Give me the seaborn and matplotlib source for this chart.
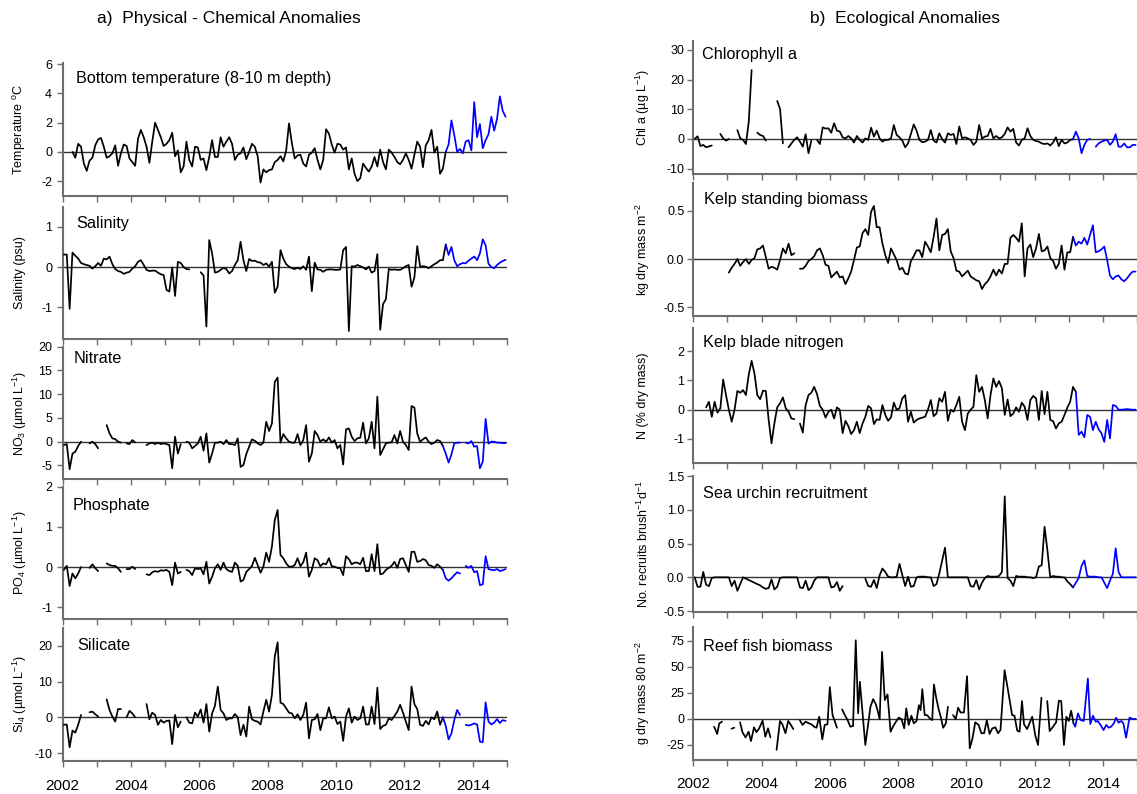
import matplotlib
matplotlib.use("Agg")
import matplotlib.pyplot as plt
import seaborn as sns
import pandas as pd
from matplotlib.ticker import FormatStrFormatter

# ---------------- data (monthly anomalies, month 0 = Jan 2002) ----------------
N = None
temp = [N, N, N, 0, -0.4, 0.55, 0.35, -0.8, -1.3, -0.6,
        -0.4, 0.45, 0.85, 0.95, 0.35, -0.4, -0.3, -0.1, 0.45, -0.95,
        -0.1, 0.5, 0.4, -0.45, -0.7, -0.95, 0.9, 1.5, 1.0, 0.35,
        -0.75, 0.7, 2.0, 1.5, 1.0, 0.4, 0.55, 0.8, 1.3, -0.3,
        0.1, -1.4, -1.0, 0.7, -0.55, -1.0, 0.35, 0.3, -0.55, -0.45,
        -1.25, -0.35, 0.8, -0.35, -0.35, 1.0, 0.35, 0.7, 1.0, 0.55,
        -0.55, -0.2, -0.1, 0.3, -0.5, 0, 0.55, 0.35, -0.3, -2.1,
        -1.2, -1.4, -1.25, -1.2, -0.7, -0.55, -0.3, -0.65, 0.1, 1.95,
        0.6, -0.45, -0.25, -0.2, -0.8, -1.0, -0.2, -0.05, 0.25, -0.55,
        -1.2, -0.55, 1.55, 1.25, 0.5, -0.05, 0.55, 0.5, 0.15, 0.3,
        -1.2, -0.45, -1.5, -2.0, -1.8, -0.8, -1.1, -1.35, -1.0, -0.35,
        -1.0, 0.15, -0.7, -1.2, 0.15, -0.05, -0.35, -0.7, -0.85, -0.55,
        -0.1, -0.55, -1.15, -0.2, 0.7, 0.35, -1.05, 0.45, 0.8, 1.5,
        -0.05, 0.35, -1.5, -1.15, 0.0, 0.5, 2.15, 1.15, 0.0, 0.2,
        -0.1, 0.7, 0.8, 0.1, 3.4, 1.0, 1.9, 0.25, 0.8, 1.2,
        2.4, 1.45, 2.25, 3.8, 2.8, 2.4]
temp_split = 134

salinity = [0.31, 0.31, -1.04, 0.36, 0.28, 0.21, 0.1, 0.07, 0.05, 0.03,
            -0.04, 0.02, 0.1, 0.03, 0.21, 0.19, 0.26, 0.07, -0.05, -0.1,
            -0.12, -0.17, -0.14, -0.12, -0.04, 0.02, 0.13, 0.17, 0.05, -0.07,
            -0.1, -0.09, -0.09, -0.14, -0.18, -0.2, -0.57, -0.61, -0.01, -0.72,
            0.13, 0.1, 0, -0.05, -0.06, N, N, N, -0.13, -0.21,
            -1.48, 0.67, 0.34, -0.14, -0.12, -0.07, -0.02, -0.05, -0.16, -0.1,
            0.05, 0.17, 0.63, 0.17, -0.1, 0.2, 0.15, 0.16, 0.12, 0.11,
            0.05, 0.09, 0.01, 0.13, -0.64, -0.49, 0.42, 0.21, 0.07, 0.01,
            -0.03, -0.05, -0.02, -0.05, 0.02, -0.07, 0.26, -0.6, 0.11, -0.06,
            -0.07, -0.12, -0.07, -0.06, -0.06, -0.07, -0.07, -0.06, 0.42, 0.5,
            -1.59, 0.02, 0.01, 0.05, 0.02, -0.01, -0.06, 0.01, -0.14, -0.1,
            0.32, -1.56, -0.92, -0.8, -0.05, -0.07, -0.06, -0.07, -0.07, -0.03,
            0.02, 0.05, -0.49, -0.26, 0.52, 0.01, 0.02, 0.01, -0.03, 0.02,
            0.07, 0.11, 0.17, 0.17, 0.56, 0.3, 0.5, 0.17, 0.02, 0.07,
            0.1, 0.09, 0.16, 0.21, 0.26, 0.17, 0.34, 0.69, 0.54, 0.08,
            0, -0.03, 0.05, 0.11, 0.15, 0.18]
salinity_split = 134

nitrate = [-0.7, -0.5, -5.8, -2.5, -2.1, -0.9, 0, N, N, -0.35,
           0, -0.5, -1.4, N, N, 3.5, 1.75, 0.7, 0.56, 0,
           -0.2, N, -0.35, -0.5, 0.35, -0.14, N, N, N, -0.7,
           -0.35, -0.2, -0.5, -0.2, -0.5, -0.35, -0.5, -0.7, -5.6, 1.05,
           -2.5, -0.5, N, 0, -0.2, -1.4, -0.9, -0.35, 1.05, -1.9,
           1.75, -4.4, -2.5, -0.2, -0.2, 0, -0.5, 0.35, -0.5, -0.5,
           -0.7, 0.7, -5.3, -4.9, -2.6, -1.05, 0.5, 0.2, -0.35, -0.7,
           -0.2, 4.2, 2.25, 3.85, 12.6, 13.5, -0.2, 1.6, 0.7, 0,
           -0.2, -0.2, 1.6, -0.7, 0.35, 3.5, -4.2, -2.5, 2.25, 1.4,
           0, 0.5, 0, 0.9, -0.2, 0.35, -1.4, -0.7, -4.8, 2.6,
           2.8, 1.05, 0.14, 0.7, 0.84, 4.0, -0.35, 0.7, 4.2, -1.4,
           9.5, -2.8, -1.6, -0.35, -0.2, -0.14, 1.4, -0.35, 2.25, 0,
           -0.7, -1.75, 7.5, 7.2, 1.75, 0, 0.5, 0.9, 0, -0.5,
           -0.2, 0.35, 0.14, -0.9, -2.5, -4.4, -2.7, -0.35, -0.2, -0.2,
           N, -0.2, -0.35, 0.14, -1.05, -0.9, -5.6, -4.2, 4.8, -0.4,
           0, 0, -0.2, -0.2, -0.3, -0.3]
nitrate_split = 133

phosphate = [-0.07, 0.03, -0.47, -0.16, -0.28, -0.16, 0, N, N, -0.02,
             0.07, -0.03, -0.1, N, N, 0.09, 0.05, 0.03, 0.03, -0.03,
             -0.12, N, -0.05, -0.05, 0.01, -0.05, N, N, N, -0.18,
             -0.2, -0.13, -0.1, -0.12, -0.08, -0.09, -0.07, -0.12, -0.45, 0.11,
             -0.16, -0.12, N, -0.07, -0.1, -0.2, -0.03, -0.05, -0.03, -0.18,
             0.13, -0.41, -0.24, -0.03, 0.07, -0.07, 0.11, -0.05, -0.1, -0.12,
             0.11, 0.03, -0.36, -0.32, -0.12, -0.05, 0.03, 0.23, 0.05, -0.14,
             0.01, 0.36, 0.13, 0.51, 1.17, 1.42, 0.3, 0.22, 0.09, 0.01,
             0.01, 0.05, 0.22, 0.02, 0.12, 0.36, -0.24, -0.07, 0.22, 0.17,
             0.02, 0.09, 0.07, 0.22, 0.02, 0.01, -0.02, -0.03, -0.2, 0.27,
             0.2, 0.07, 0.11, 0.11, 0.07, 0.23, -0.1, -0.1, 0.32, -0.1,
             0.57, -0.18, -0.16, -0.07, -0.02, 0.03, 0.13, -0.02, 0.2, 0.22,
             0.05, -0.12, 0.38, 0.38, 0.13, 0.15, 0.2, 0.17, 0.05, 0.03,
             -0.02, 0.07, 0.01, -0.07, -0.28, -0.34, -0.28, -0.2, -0.13, -0.16,
             N, 0.03, -0.02, 0.03, -0.13, -0.1, -0.45, -0.43, 0.27, -0.05,
             -0.07, -0.08, -0.05, -0.1, -0.08, -0.05]
phosphate_split = 133

silicate = [-2.1, -2.0, -8.4, -3.7, -4.3, -2.1, 0.65, N, N, 1.4,
            1.6, 0.85, 0.2, N, N, 5.0, 2.05, 0.2, -1.2, 2.3,
            2.3, N, 0, 1.8, 1.1, 0, N, N, N, 3.7,
            -0.55, 1.3, 0.65, -2.1, -0.75, -1.5, -1.0, -0.9, -7.5, 0.65,
            -2.8, -1.2, N, 0, -1.5, -1.7, 1.3, 0.2, 2.2, -1.5,
            3.7, -4.0, 1.1, 3.2, 8.6, 2.05, 1.1, -0.75, -0.3, -0.3,
            0.93, 0, -5.0, -2.1, -5.4, 3.0, -0.55, -1.0, -1.2, -2.0,
            1.6, 4.9, 1.6, 6.3, 17, 21, 4.1, 3.7, 2.5, 1.3,
            1.1, -0.3, 0.85, -0.75, 0.65, 4.1, -5.9, -0.75, -0.55, 0.93,
            -3.6, -0.3, -0.3, 2.8, -0.3, 0.2, -1.9, -1.2, -6.6, 0.2,
            2.5, -1.5, 0.2, -0.75, -0.3, 3.0, -2.0, -2.0, 3.0, -1.9,
            8.3, -3.3, -2.4, -2.1, -0.3, -0.75, 0.37, 1.6, 3.5, 1.3,
            -1.2, -3.6, 8.6, 3.7, 2.3, -2.1, -2.4, -1.0, -2.0, 0,
            -0.55, 1.6, -2.1, 0, -2.4, -6.2, -4.5, -0.75, 2.05, 0.65,
            N, -2.1, -2.3, -2.1, -1.7, -2.0, -6.8, -7.0, 4.2, -1.2,
            -2.0, -1.5, -0.5, -1.6, -0.8, -1.0]
silicate_split = 133

chl = [0, 0.9, -2.4, -2.0, -2.8, -2.5, -2.2, N, N, 1.7,
       0.2, -0.56, 0, N, N, 3.0, 0.2, -0.3, -1.7, 5.8,
       23.2, N, 2.1, 1.35, 1.0, -0.56, N, N, N, 12.8,
       10.1, -1.5, N, -2.8, -1.5, -0.3, 0.56, -0.9, -2.6, 1.6,
       -4.8, -0.56, N, -0.3, -1.7, 3.9, 3.5, 3.6, 2.1, 5.3,
       2.8, 2.5, 0.56, 0.2, 1.0, 0.2, -1.2, 1.0, -0.3, -1.2,
       0.2, -0.3, 3.8, 0.8, 2.8, 0.2, -0.9, -0.3, -0.3, 0.2,
       4.7, 1.35, 0.56, -0.56, -2.8, -1.5, 1.7, 4.9, 2.8, -0.3,
       -1.1, -0.9, -0.3, 3.0, -0.56, -1.2, 1.9, -0.1, -1.2, 1.9,
       1.35, 1.7, -1.7, 4.2, 0.2, 0.56, 0.2, -0.3, -2.0, -0.9,
       4.7, 0.2, 0.8, 1.0, 3.4, 0.2, 1.0, 0.2, 0.56, 1.7,
       3.9, 2.5, 3.4, -1.2, -2.2, -0.3, 0.2, 3.6, 1.0, -0.3,
       -0.7, -0.9, -1.5, -1.7, -1.5, -2.2, -1.2, 0.56, -2.4, -0.3,
       -1.5, -1.2, -0.3, -0.1, 2.5, 0.2, -4.8, -2.0, -0.3, 0,
       N, -2.6, -1.5, -0.9, -0.56, -0.3, -2.0, -0.9, 1.6, -2.6,
       -2.6, -1.5, -2.8, -2.8, -2.0, -2.0]
chl_split = 133

kelp = [N, N, N, N, N, N, N, N, N, N,
        N, N, -0.14, -0.09, -0.05, 0, -0.07, -0.03, 0, -0.05,
        -0.01, 0.01, 0.1, 0.11, 0.14, 0.02, -0.1, -0.08, -0.09, -0.11,
        -0.01, 0.11, 0.06, 0.16, 0.04, 0.06, N, -0.1, -0.1, -0.07,
        -0.02, 0, 0.03, 0.09, 0.11, 0.04, -0.06, -0.07, -0.19, -0.16,
        -0.13, -0.19, -0.18, -0.26, -0.2, -0.13, -0.01, 0.12, 0.13, 0.27,
        0.31, 0.25, 0.49, 0.55, 0.33, 0.33, 0.16, 0.04, -0.04, 0.11,
        0.05, -0.01, -0.11, -0.09, -0.15, -0.16, -0.02, 0.03, 0.09, 0.09,
        0.02, 0.18, 0.13, 0.07, 0.23, 0.42, 0.09, 0.25, 0.26, 0.31,
        0.08, 0.01, -0.12, -0.13, -0.18, -0.15, -0.12, -0.18, -0.2, -0.22,
        -0.23, -0.31, -0.26, -0.23, -0.18, -0.11, -0.17, -0.11, -0.15, -0.05,
        -0.05, 0.22, 0.25, 0.22, 0.18, 0.37, -0.18, 0.11, 0.15, 0.02,
        0.11, 0.26, 0.08, 0.09, 0.13, 0.01, -0.02, -0.1, -0.05, 0.14,
        -0.11, 0.07, 0.07, 0.23, 0.14, 0.18, 0.16, 0.22, 0.15, 0.25,
        0.35, 0.07, 0.08, 0.1, 0.13, -0.01, -0.17, -0.21, -0.18, -0.17,
        -0.21, -0.23, -0.2, -0.16, -0.13, -0.13]
kelp_split = 133

kelp_n = [N, N, N, N, 0.08, 0.27, -0.24, 0.27, -0.1, 0.05,
          1.03, 0.5, 0, -0.41, 0, 0.64, 0.58, 0.67, 0.5, 1.2,
          1.67, 1.24, 0.5, 0.36, 0.65, 0.64, -0.35, -1.15, -0.47, 0.08,
          0.22, 0.42, 0.05, -0.07, -0.3, -0.32, N, -0.47, -0.78, 0.16,
          0.5, 0.58, 0.78, 0.53, 0.13, 0, -0.27, -0.07, 0, -0.3,
          0.08, 0, -0.8, -0.38, -0.56, -0.83, -0.7, -0.41, -0.8, -0.47,
          -0.24, 0.13, 0.05, -0.49, -0.33, -0.35, 0.16, -0.18, -0.38, -0.26,
          0.24, 0, 0.05, 0.39, 0.5, -0.41, -0.07, -0.44, -0.35, -0.3,
          -0.27, -0.24, 0, 0.33, -0.22, -0.13, 0.39, 0.27, 0.61, -0.38,
          0, -0.07, 0.16, 0.44, -0.41, -0.7, -0.13, 0, 0.1, 1.18,
          0.61, 0.78, 0.33, -0.3, 0.5, 1.07, 0.78, 0.98, 0.73, -0.18,
          0.35, -0.22, -0.13, 0.08, -0.07, 0.24, 0.1, -0.35, 0.33, 0.47,
          0.39, -0.35, 0.64, -0.15, 0.61, -0.35, -0.39, -0.64, -0.47, -0.41,
          -0.18, 0.07, 0.27, 0.78, 0.61, -0.86, -0.75, -0.94, -0.18, -0.24,
          -0.7, -0.41, -0.67, -0.8, -1.1, -0.35, -0.98, 0.16, 0.13, 0,
          0, 0.01, 0.02, 0.01, 0, 0]
kelp_n_split = 134

urchin = [0, -0.14, -0.14, 0.08, -0.11, -0.13, -0.01, 0, 0, 0,
          0, 0, 0, -0.13, -0.05, -0.2, -0.1, 0, -0.02, -0.04,
          -0.06, -0.08, -0.1, -0.12, -0.15, -0.17, -0.16, -0.03, -0.18, -0.14,
          -0.01, 0, 0, 0, 0, 0, 0, -0.15, -0.16, -0.05,
          -0.19, -0.15, -0.05, 0, 0, 0, 0, 0, -0.15, -0.14,
          -0.07, -0.2, -0.13, N, N, N, N, N, N, N,
          -0.02, -0.13, -0.14, -0.04, -0.16, 0.03, 0.13, 0.08, 0.01, 0,
          0, 0.01, 0.2, 0.03, -0.13, 0.01, -0.14, -0.13, 0, 0.01,
          0.01, 0.01, 0, 0, -0.13, -0.1, 0.06, 0.25, 0.44, 0,
          0, 0, 0, 0, 0, 0, 0, -0.13, -0.14, -0.04,
          -0.18, -0.08, -0.01, 0.02, 0.01, 0.01, 0.01, 0.02, 0.08, 1.2,
          -0.01, -0.05, -0.13, 0.02, 0.01, 0.01, 0.01, 0, 0, -0.01,
          0, 0.16, 0.18, 0.75, 0.4, 0, 0.02, 0.01, 0.01, 0,
          0, -0.06, -0.1, -0.15, -0.08, -0.01, 0.17, 0.25, 0.02, 0.01,
          0.01, 0.01, 0, 0, -0.08, -0.16, -0.05, 0.05, 0.43, 0.08,
          0, 0, 0, 0, 0, 0]
urchin_split = 133

# reef fish: irregular survey dates (decimal years); None = break in record
fish_t = [2002.61, 2002.70, 2002.76, 2002.84, N, 2003.12, 2003.20, N,
          2003.37, 2003.44, 2003.53, 2003.62, 2003.69, 2003.78, 2003.85, 2003.93,
          2004.03, 2004.11, 2004.19, 2004.26, N,
          2004.44, 2004.54, 2004.61, 2004.70, 2004.78, 2004.86, 2004.93, N,
          2005.12, 2005.20, 2005.29, 2005.39, 2005.46, 2005.54, 2005.61, 2005.69,
          2005.78, 2005.85, 2005.93, 2006.00, 2006.08, 2006.15, 2006.21, N,
          2006.36, 2006.44, 2006.52, 2006.60, 2006.68, 2006.76, 2006.83, 2006.88,
          2007.04, 2007.12, 2007.19, 2007.27, 2007.35, 2007.41, 2007.46, 2007.53,
          2007.61, 2007.69, 2007.78, 2007.85, 2007.95, 2008.02, 2008.10, 2008.18,
          2008.24, 2008.31, 2008.39, 2008.46, 2008.54, 2008.61, 2008.66, 2008.71,
          2008.78, 2008.85, 2008.93, 2009.00, 2009.05, 2009.12, 2009.19, 2009.25,
          2009.32, 2009.40, 2009.46, N,
          2009.61, 2009.69, 2009.76, 2009.83, 2009.93, 2010.02, 2010.10, 2010.18,
          2010.26, 2010.36, 2010.44, 2010.52, 2010.60, 2010.68, 2010.76, 2010.85,
          2010.93, 2011.00, 2011.12, 2011.22, 2011.34, 2011.41, 2011.49, 2011.56,
          2011.63, 2011.69, 2011.78, 2011.85, 2011.93, 2012.02, 2012.10, 2012.20, N,
          2012.37, 2012.44, 2012.54, 2012.63, 2012.71, 2012.78, 2012.86, 2012.93,
          2013.00, 2013.07, 2013.14, 2013.19, 2013.27, 2013.35, 2013.44, 2013.56,
          2013.63, 2013.71, 2013.79, 2013.85, 2013.93, 2014.02, 2014.10, 2014.17,
          2014.24, 2014.32, 2014.39, 2014.46, 2014.54, 2014.60, 2014.68, 2014.78,
          2014.88, 2014.96]
fish_v = [-7.7, -14.7, -4.5, -2.9, N, -9.6, -8.7, N,
          -3.5, -13, -18, -12.5, -21.5, -8.3, -13, -9.3,
          -1.9, -17.3, -9.3, -18, N,
          -30, -2.2, -5.4, -14, -2.2, -6, -10, N,
          -1.3, -6, -2.9, -4.5, -5.4, -7.7, -8.7, 1.9,
          -19.9, -6, -5.4, 30.4, 3.5, -2.9, -8.7, N,
          9, 3.5, -1.3, -7.7, -7, 75.6, 5.1, 35.6,
          -25.3, -6, 11.5, 18.9, 13.8, 6.7, -0.6, 64.4,
          18, 23.4, -12.5, -7.7, -2.2, 1, -0.3, -9.3,
          10, -6, 2.9, -4.5, -2.2, 13.1, 8.3, 28.5,
          3.5, 3.5, 0.3, -1.3, 33, 19.6, 9, 1.9,
          -8.7, -4.5, 11.5, N,
          3.5, -0.3, 10.6, 6, 6, 41, -28.5, -19,
          -3.5, -6, -14, -14, -1.3, -14.7, -9.3, -8.3,
          -14, -10.9, 46.8, 27.6, 3.5, 2.9, -11.5, -12.5,
          17, -5.4, -10, -4.5, 1.9, -16.3, -25.3, 20.2, N,
          17, -11.9, -7.7, -3.5, 17.3, 17, -25.3, 1.9,
          -2.2, 7.7, -4.5, -7.7, 5.1, -1.3, -2.2, 38.8,
          -5.1, 2.9, -2.9, -2.2, -6, -10.9, -6, -8.7,
          -7.7, -4.5, 1, -3.8, -2.2, -4.5, -18.3, 1,
          -0.3, -0.3]
fish_split = 2013.14

# ---------------- helpers ----------------
def month_times(vals):
    return [2002 + (m + 0.5) / 12 for m in range(len(vals))]

def split_time(m):
    return 2002 + (m + 0.5) / 12

def build_frame(times, vals, split):
    rows, seg = [], 0
    for t, v in zip(times, vals):
        if v is None or t is None:
            seg += 1
            continue
        if t <= split + 1e-9:
            rows.append((t, v, "obs", f"o{seg}"))
        if t >= split - 1e-9:
            rows.append((t, v, "new", f"n{seg}"))
    return pd.DataFrame(rows, columns=["t", "v", "period", "seg"])

# ---------------- style ----------------
sns.set_theme(style="ticks")
plt.rcParams["font.family"] = ["Liberation Sans", "DejaVu Sans"]
plt.rcParams["mathtext.fontset"] = "custom"
plt.rcParams["mathtext.rm"] = "Liberation Sans"
plt.rcParams["mathtext.it"] = "Liberation Sans:italic"
plt.rcParams["mathtext.bf"] = "Liberation Sans:bold"
plt.rcParams["axes.unicode_minus"] = False

W, H = 1137, 794
fig = plt.figure(figsize=(W / 100, H / 100), dpi=100)

SPINE = "#6e6e6e"
palette = {"obs": "black", "new": "#0000ff"}

panels = [
    # frame, ylim, yticks, fmt, ylabel, label, (x0,x1,y0,y1) px, label offset px, col
    (build_frame(month_times(temp), temp, split_time(temp_split)), (-3.0, 6.08), [-2, 0, 2, 4, 6], "%g",
     "Temperature $^{\\mathrm{o}}$C", "Bottom temperature (8-10 m depth)", (62.5, 507, 63, 195.7), (13.5, 14.7), 0),
    (build_frame(month_times(salinity), salinity, split_time(salinity_split)), (-1.79, 1.5), [-1, 0, 1], "%g",
     "Salinity (psu)", "Salinity", (62.5, 507, 206.7, 339), (14.2, 15.6), 0),
    (build_frame(month_times(nitrate), nitrate, split_time(nitrate_split)), (-7.85, 20), [-5, 0, 5, 10, 15, 20], "%g",
     "NO$_{3}$ (\u00b5mol L$^{-1}$)", "Nitrate", (62.5, 507, 346.7, 479), (11.5, 10.5), 0),
    (build_frame(month_times(phosphate), phosphate, split_time(phosphate_split)), (-1.3, 2.0), [-1, 0, 1, 2], "%g",
     "PO$_{4}$ (\u00b5mol L$^{-1}$)", "Phosphate", (62.5, 507, 486.7, 619.3), (10.2, 17.6), 0),
    (build_frame(month_times(silicate), silicate, split_time(silicate_split)), (-12.15, 25), [-10, 0, 10, 20], "%g",
     "Si$_{4}$ (\u00b5mol L$^{-1}$)", "Silicate", (62.5, 507, 628, 760.7), (14.8, 16), 0),
    (build_frame(month_times(chl), chl, split_time(chl_split)), (-11.9, 33), [-10, 0, 10, 20, 30], "%g",
     "Chl a (\u00b5g L$^{-1}$)", "Chlorophyll a", (693.3, 1137, 41, 174.3), (8.4, 12.3), 1),
    (build_frame(month_times(kelp), kelp, split_time(kelp_split)), (-0.59, 0.785), [-0.5, 0.0, 0.5], "%.1f",
     "kg dry mass m$^{-2}$", "Kelp standing biomass", (693.3, 1137, 183.3, 316), (11, 15), 1),
    (build_frame(month_times(kelp_n), kelp_n, split_time(kelp_n_split)), (-1.83, 2.78), [-1, 0, 1, 2], "%g",
     "N (% dry mass)", "Kelp blade nitrogen", (693.3, 1137, 328.3, 463.3), (9.4, 13.4), 1),
    (build_frame(month_times(urchin), urchin, split_time(urchin_split)), (-0.51, 1.503), [-0.5, 0.0, 0.5, 1.0, 1.5], "%.1f",
     "No. recruits brush$^{-1}$d$^{-1}$", "Sea urchin recruitment", (693.3, 1137, 476, 611.7), (10, 16.3), 1),
    (build_frame(fish_t, fish_v, fish_split), (-39.8, 88.7), [-25, 0, 25, 50, 75], "%g",
     "g dry mass 80 m$^{-2}$", "Reef fish biomass", (693.3, 1137, 626.7, 760), (9.4, 18.3), 1),
]

years = list(range(2002, 2016))
for i, (df, ylim, yticks, fmt, ylab, lab, box, off, col) in enumerate(panels):
    x0, x1, y0, y1 = box
    ax = fig.add_axes([x0 / W, 1 - y1 / H, (x1 - x0) / W, (y1 - y0) / H])
    ax.axhline(0, color="#333333", lw=1.0, zorder=1)
    sns.lineplot(data=df, x="t", y="v", hue="period", units="seg", estimator=None,
                 palette=palette, linewidth=1.25, legend=False, sort=False, ax=ax, zorder=3)
    ax.set_xlim(2002, 2015)
    ax.set_ylim(*ylim)
    ax.set_yticks(yticks)
    ax.yaxis.set_major_formatter(FormatStrFormatter(fmt))
    ax.set_xticks(years)
    bottom = (i % 5 == 4)
    if bottom:
        ax.set_xticklabels([str(y) if y % 2 == 0 else "" for y in years])
    else:
        ax.set_xticklabels([])
    for s in ["top", "right"]:
        ax.spines[s].set_visible(False)
    for s in ["left", "bottom"]:
        ax.spines[s].set_color(SPINE)
        ax.spines[s].set_linewidth(1.5)
    ax.tick_params(axis="x", direction="out", length=4, width=1.0, color=SPINE,
                   labelsize=11, pad=(9.5 if col == 0 else 8), labelcolor="black")
    ax.tick_params(axis="y", direction="out", length=4, width=1.0, color=SPINE,
                   labelsize=9, pad=(3.5 if col == 0 else 2.5), labelcolor="black")
    ax.set_xlabel("")
    ax.set_ylabel(ylab, fontsize=9, color="black")
    wpx = x1 - x0
    hpx = y1 - y0
    ax.yaxis.set_label_coords(-(42.5 if col == 0 else 50) / wpx, 0.5)
    ax.yaxis.label.set_va("center")
    ax.text(off[0] / wpx, 1 - (off[1] + 5.8) / hpx, lab, transform=ax.transAxes,
            ha="left", va="baseline", fontsize=11.7, color="black")
    ax.set_facecolor("white")

fig.text(229 / W, 1 - 18 / H, "a)  Physical - Chemical Anomalies", ha="center", va="center",
         fontsize=12.5, color="black")
fig.text(905 / W, 1 - 18 / H, "b)  Ecological Anomalies", ha="center", va="center",
         fontsize=12.5, color="black")

fig.savefig("out.png", dpi=100, facecolor="white")
